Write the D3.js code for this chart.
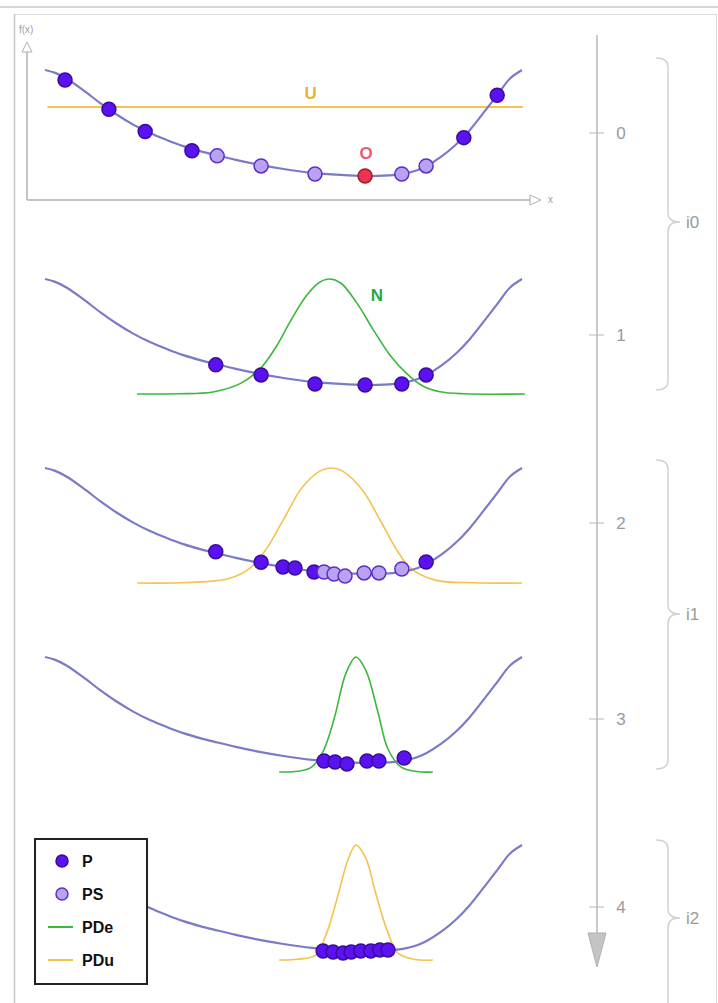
<!DOCTYPE html>
<html>
<head>
<meta charset="utf-8">
<script src="https://cdn.jsdelivr.net/npm/d3@7"></script>
<style>
  body { margin: 0; background: #fff; }
  svg { display: block; font-family: "Liberation Sans", Arial, sans-serif; }
</style>
</head>
<body>
<svg id="chart" width="718" height="1003"></svg>
<script>
// objective function f(x), same shape in every step  [x, f]
var curve = [[0,1.0],[2,0.975],[4.5,0.92],[8,0.81],[11.5,0.69],[15,0.58],[18.5,0.485],
             [22,0.405],[25.5,0.34],[29,0.282],[32.5,0.235],[36,0.195],[40,0.152],[45,0.105],
             [50,0.066],[56,0.03],[62,0.01],[67,0],[71,0.003],[75,0.02],[78,0.055],[80,0.095],
             [83,0.18],[86,0.29],[89,0.43],[92,0.6],[95,0.775],[97.5,0.92],[100,1.0]];

// sampled points per step  [x, f, kind]   kind: P, PS, O
var step0 = [[4.2,0.905,"P"],[13.4,0.629,"P"],[21.0,0.419,"P"],[30.8,0.238,"P"],
             [36.1,0.19,"PS"],[45.3,0.095,"PS"],[56.6,0.019,"PS"],[67.1,0,"O"],
             [74.8,0.019,"PS"],[79.9,0.095,"PS"],[87.8,0.362,"P"],[94.8,0.762,"P"]];
var step1 = [[35.8,0.19,"P"],[45.3,0.095,"P"],[56.6,0.01,"P"],[67.1,0,"P"],
             [74.8,0.01,"P"],[79.9,0.095,"P"]];
var step2 = [[35.8,0.21,"P"],[45.3,0.11,"P"],[49.9,0.066,"P"],[52.4,0.057,"P"],[56.4,0.019,"P"],
             [58.5,0.019,"PS"],[60.6,0,"PS"],[62.9,-0.02,"PS"],[66.9,0.01,"PS"],[70.0,0.01,"PS"],
             [74.8,0.047,"PS"],[79.9,0.113,"P"]];
var step3 = [[58.5,0.019,"P"],[60.8,0.009,"P"],[63.3,-0.009,"P"],[67.5,0.019,"P"],
             [70.0,0.019,"P"],[75.3,0.047,"P"]];
var step4 = [[58.3,0,"P"],[60.4,-0.01,"P"],[62.5,-0.02,"P"],[64.2,-0.01,"P"],[66.2,0,"P"],
             [68.3,0,"P"],[70.2,0.01,"P"],[71.9,0.01,"P"]];

// probability densities  [x, relative height]
var bellN = [[19.3,0],[28,0.002],[35.2,0.018],[40.9,0.09],[45.1,0.22],[48.6,0.42],[51.4,0.63],
             [54.9,0.86],[57.5,0.97],[59.7,1],[62,0.965],[65.4,0.79],[68.8,0.56],[72.3,0.34],
             [75.9,0.175],[79.2,0.07],[82.8,0.02],[88,0.002],[100.6,0]];
var bellU2 = [[19.3,0],[30,0.004],[38.6,0.04],[43.0,0.13],[46.3,0.29],[50.1,0.56],[53.9,0.83],
              [57.7,0.975],[60.0,1],[62.3,0.975],[66.5,0.81],[70.2,0.55],[74.0,0.27],[76.9,0.12],
              [81.8,0.025],[90,0.002],[100,0]];
var bellE3 = [[49.1,0],[53,0.006],[55.8,0.04],[58.3,0.18],[60.6,0.46],[63.1,0.86],[65.2,1],
              [67.3,0.88],[69.8,0.52],[71.9,0.2],[74.6,0.045],[78,0.004],[81.3,0]];
var bellU4 = [[49.1,0],[53,0.006],[56.8,0.045],[59.1,0.24],[61.6,0.59],[63.5,0.87],[65.2,1],
              [67.3,0.88],[69.2,0.6],[71.7,0.26],[74.0,0.06],[77.5,0.005],[81.3,0]];

var uLevel = 0.65;           // f value of the U line
var iterTicks = [0, 1, 2, 3, 4];
var braceLabels = ["i0", "i1", "i2"];
var legendItems = [{name:"P", kind:"P"}, {name:"PS", kind:"PS"},
                   {name:"PDe", kind:"e"}, {name:"PDu", kind:"u"}];

var colors = { curve:"#7a7ac8", green:"#3cb83c", yellow:"#f4c24e",
               P:"#5b12f0", Pstroke:"#3a0b9c", PS:"#b9a2f2", PSstroke:"#5a2fc6",
               O:"#ee3452", Ostroke:"#96202f", axis:"#b0b0b0", label:"#9a9a9a" };

// layout
var svg = d3.select("#chart");
var xs = d3.scaleLinear().domain([0, 100]).range([45, 522]);
var panelTops = [70, 279, 468, 657, 845];
var curveDepth = 106, bellDepth = 115;
var smooth = d3.curveCatmullRom.alpha(0.5);

var panels = [
  { pts: step0, bell: null,   bellColor: null },
  { pts: step1, bell: bellN,  bellColor: colors.green },
  { pts: step2, bell: bellU2, bellColor: colors.yellow },
  { pts: step3, bell: bellE3, bellColor: colors.green },
  { pts: step4, bell: bellU4, bellColor: colors.yellow }
];

// frame
svg.append("line").attr("x1", 0).attr("x2", 718).attr("y1", 7).attr("y2", 7)
  .attr("stroke", "#d6d6d6").attr("stroke-width", 2);
svg.append("rect").attr("x", 14.5).attr("y", 14.5).attr("width", 702).attr("height", 1000)
  .attr("fill", "none").attr("stroke", "#dcdcdc").attr("stroke-width", 1);
svg.append("line").attr("x1", 14.5).attr("x2", 14.5).attr("y1", 14).attr("y2", 1003)
  .attr("stroke", "#c8c8c8").attr("stroke-width", 1.5);

// axes of the first step
var ax = svg.append("g").attr("stroke", colors.axis).attr("fill", "white").attr("stroke-width", 1.5);
ax.append("line").attr("x1", 27).attr("x2", 27).attr("y1", 200).attr("y2", 52);
ax.append("path").attr("d", "M22,52 L27,42 L32,52 Z").attr("stroke-width", 1);
ax.append("line").attr("x1", 27).attr("x2", 530).attr("y1", 200).attr("y2", 200);
ax.append("path").attr("d", "M530,195 L541,200 L530,205 Z").attr("stroke-width", 1);
svg.append("text").attr("x", 19).attr("y", 33).text("f(x)")
  .attr("font-size", 10).attr("fill", "#a0a0a0");
svg.append("text").attr("x", 548).attr("y", 203).text("x")
  .attr("font-size", 10).attr("fill", "#a0a0a0");

panels.forEach(function (p, i) {
  var top = panelTops[i];
  var ys = d3.scaleLinear().domain([0, 1]).range([top + curveDepth, top]);
  var yb = d3.scaleLinear().domain([0, 1]).range([top + bellDepth, top]);
  var g = svg.append("g").attr("class", "step");

  if (i == 0) {
    g.append("line")
      .attr("x1", xs(0.5)).attr("x2", xs(100.2))
      .attr("y1", ys(uLevel)).attr("y2", ys(uLevel))
      .attr("stroke", colors.yellow).attr("stroke-width", 2);
    g.append("text").attr("x", xs(55.7)).attr("y", ys(uLevel) - 8).text("U")
      .attr("text-anchor", "middle").attr("font-size", 17).attr("font-weight", "bold")
      .attr("fill", "#e8b52e");
  }

  if (p.bell) {
    g.append("path").datum(p.bell)
      .attr("d", d3.line().x(function (d) { return xs(d[0]); })
                          .y(function (d) { return yb(d[1]); })
                          .curve(smooth))
      .attr("fill", "none").attr("stroke", p.bellColor).attr("stroke-width", 1.6);
  }

  g.append("path").datum(curve)
    .attr("d", d3.line().x(function (d) { return xs(d[0]); })
                        .y(function (d) { return ys(d[1]); })
                        .curve(smooth))
    .attr("fill", "none").attr("stroke", colors.curve).attr("stroke-width", 2.2);

  if (i == 1) {
    g.append("text").attr("x", xs(69.6)).attr("y", top + 22).text("N")
      .attr("text-anchor", "middle").attr("font-size", 17).attr("font-weight", "bold")
      .attr("fill", "#2aa83a");
  }

  g.selectAll("circle").data(p.pts).enter().append("circle")
    .attr("cx", function (d) { return xs(d[0]); })
    .attr("cy", function (d) { return ys(d[1]); })
    .attr("r", 7)
    .attr("stroke-width", 1.5)
    .attr("fill", function (d) { return d[2] == "PS" ? colors.PS : d[2] == "O" ? colors.O : colors.P; })
    .attr("stroke", function (d) { return d[2] == "PS" ? colors.PSstroke : d[2] == "O" ? colors.Ostroke : colors.Pstroke; });

  if (i == 0) {
    var o = p.pts.filter(function (d) { return d[2] == "O"; })[0];
    g.append("text").attr("x", xs(o[0]) + 1).attr("y", ys(o[1]) - 17).text("O")
      .attr("text-anchor", "middle").attr("font-size", 17).attr("font-weight", "bold")
      .attr("fill", "#ee5a6e");
  }
});

// iteration axis on the right
var iy = d3.scaleLinear().domain(iterTicks).range([133, 335, 523, 719, 907]);
var axisX = 597;
var iter = svg.append("g").attr("stroke", "#b8b8b8");
iter.append("line").attr("x1", axisX).attr("x2", axisX).attr("y1", 35).attr("y2", 935)
  .attr("stroke-width", 1.5);
iter.append("path").attr("d", "M588,933 L606,933 L597,967 Z").attr("fill", "#c4c4c4").attr("stroke", "#b0b0b0");
iter.selectAll("line.tick").data(iterTicks).enter().append("line")
  .attr("class", "tick")
  .attr("x1", axisX - 8).attr("x2", axisX + 7)
  .attr("y1", function (d) { return iy(d); }).attr("y2", function (d) { return iy(d); })
  .attr("stroke-width", 1);
svg.selectAll("text.iter").data(iterTicks).enter().append("text")
  .attr("class", "iter")
  .attr("x", axisX + 24).attr("y", function (d) { return iy(d) + 6; })
  .attr("text-anchor", "middle").attr("font-size", 17).attr("fill", colors.label)
  .text(function (d) { return d; });

// braces grouping the iterations
var braceSpans = [[58, 390, 222], [460, 769, 614], [840, 1012, 918]];
function bracePath(y0, y1, tip) {
  var x0 = 656, x1 = 668, x2 = 680, r = 9;
  return "M" + x0 + "," + y0 + " Q" + x1 + "," + y0 + " " + x1 + "," + (y0 + r) +
         " L" + x1 + "," + (tip - r) + " Q" + x1 + "," + tip + " " + x2 + "," + tip +
         " Q" + x1 + "," + tip + " " + x1 + "," + (tip + r) +
         " L" + x1 + "," + (y1 - r) + " Q" + x1 + "," + y1 + " " + x0 + "," + y1;
}
braceLabels.forEach(function (lab, i) {
  var s = braceSpans[i];
  svg.append("path").attr("d", bracePath(s[0], s[1], s[2]))
    .attr("fill", "none").attr("stroke", "#d2d2d2").attr("stroke-width", 1.5);
  svg.append("text").attr("x", 686).attr("y", s[2] + 6).text(lab)
    .attr("font-size", 17).attr("fill", colors.label);
});

// legend
var lg = svg.append("g").attr("class", "legend");
lg.append("rect").attr("x", 35).attr("y", 839).attr("width", 112).attr("height", 145)
  .attr("fill", "white").attr("stroke", "#222").attr("stroke-width", 2);
legendItems.forEach(function (it, i) {
  var y = 861 + i * 33;
  if (it.kind == "P" || it.kind == "PS") {
    lg.append("circle").attr("cx", 62).attr("cy", y).attr("r", 6)
      .attr("fill", colors[it.kind]).attr("stroke", colors[it.kind + "stroke"]).attr("stroke-width", 1.5);
  } else {
    lg.append("line").attr("x1", 48).attr("x2", 73).attr("y1", y).attr("y2", y)
      .attr("stroke", it.kind == "e" ? colors.green : colors.yellow).attr("stroke-width", 2);
  }
  lg.append("text").attr("x", 82).attr("y", y + 6).text(it.name)
    .attr("font-size", 16).attr("font-weight", "bold").attr("fill", "#111");
});
</script>
</body>
</html>
